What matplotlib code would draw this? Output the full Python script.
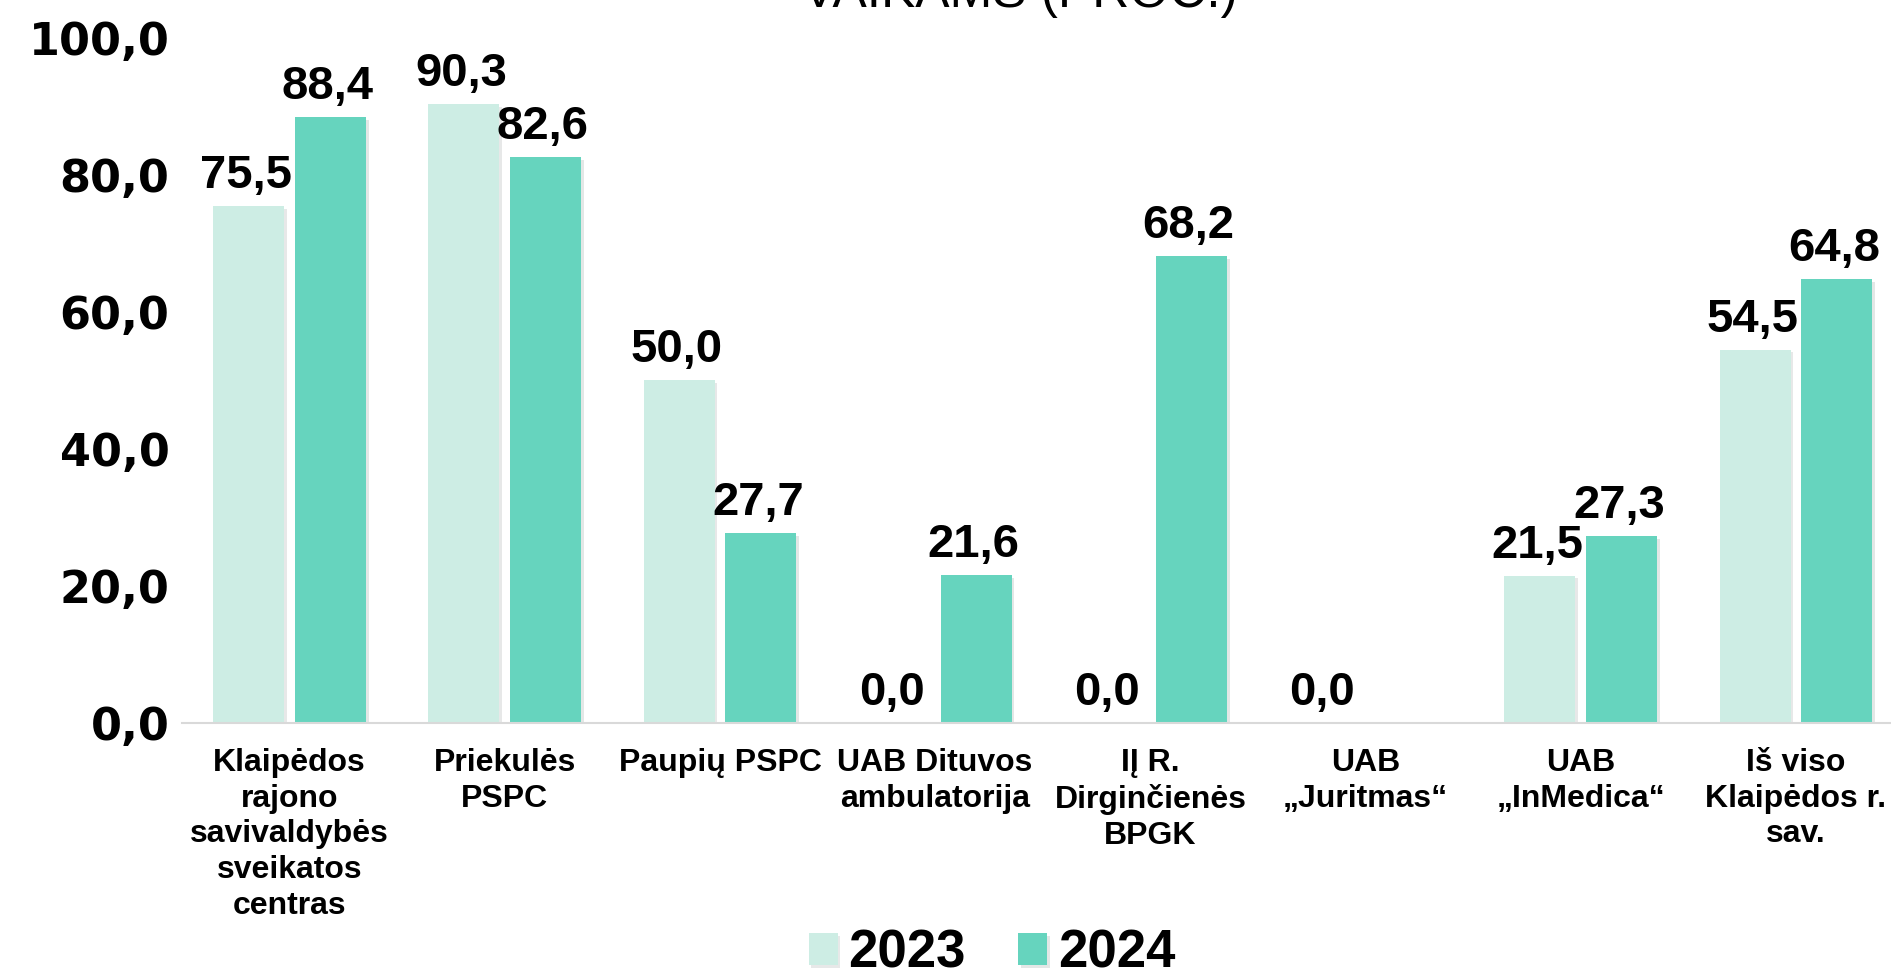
import numpy as np
import matplotlib
matplotlib.use("Agg")
import matplotlib.pyplot as plt
import matplotlib.patheffects as pe

categories = [
    "Klaipėdos\nrajono\nsavivaldybės\nsveikatos\ncentras",
    "Priekulės\nPSPC",
    "Paupių PSPC",
    "UAB Dituvos\nambulatorija",
    "IĮ R.\nDirginčienės\nBPGK",
    "UAB\n„Juritmas“",
    "UAB\n„InMedica“",
    "Iš viso\nKlaipėdos r.\nsav.",
]
series_names = ["2023", "2024"]
values_2023 = [75.5, 90.3, 50.0, 0.0, 0.0, 0.0, 21.5, 54.5]
values_2024 = [88.4, 82.6, 27.7, 21.6, 68.2, np.nan, 27.3, 64.8]
yticks = [0, 20, 40, 60, 80, 100]
title = "VAIKAMS (PROC.)"

c_2023 = "#CDEDE4"
c_2024 = "#66D4BE"

fig = plt.figure(figsize=(18.91, 9.69), dpi=100)
ax = fig.add_axes([0.0962, 0.2539, 0.9105, 0.7069])

x = np.arange(len(categories))
w = 0.33
off = 0.19
shadow = [pe.SimplePatchShadow(offset=(2, -2), alpha=0.12), pe.Normal()]

for vals, dx, col, name in [(values_2023, -off, c_2023, series_names[0]),
                            (values_2024, off, c_2024, series_names[1])]:
    v = np.array(vals, dtype=float)
    bars = ax.bar(x + dx, np.nan_to_num(v), w, color=col, label=name, zorder=2)
    for b, val in zip(bars, v):
        b.set_path_effects(shadow)
        if np.isnan(val):
            continue
        ax.annotate(f"{val:.1f}".replace(".", ","), (b.get_x() + b.get_width() / 2, val),
                    xytext=(-2, 13), textcoords="offset points", ha="center", va="baseline",
                    fontsize=34, fontweight="bold", family="Liberation Sans", clip_on=False)

ax.set_xlim(-0.5, 7.5)
ax.set_ylim(0, 100)
ax.set_yticks(yticks)
ax.set_yticklabels([f"{t:.1f}".replace(".", ",") for t in yticks],
                   fontsize=32, fontweight="bold", family="DejaVu Sans")
ax.set_xticks(x)
ax.set_xticklabels(categories, fontsize=23, fontweight="bold",
                   family="Liberation Sans", linespacing=1.25)
ax.tick_params(axis="y", length=0, pad=9)
ax.tick_params(axis="x", length=0, pad=18)
for s in ["top", "right", "left"]:
    ax.spines[s].set_visible(False)
ax.spines["bottom"].set_color("#D9D9D9")
ax.spines["bottom"].set_linewidth(1.5)

fig.text(1020 / 1891, 1 - 7 / 969, title, ha="center", va="baseline",
         fontsize=37, family="Liberation Sans")

leg = fig.legend(loc="center", bbox_to_anchor=(992 / 1891, 1 - 954 / 969), ncol=2,
                 frameon=False, handlelength=0.55, handleheight=0.55, handletextpad=0.2,
                 columnspacing=1.0, prop={"family": "Liberation Sans", "weight": "bold", "size": 38})

fig.savefig("out.png", dpi=100)
